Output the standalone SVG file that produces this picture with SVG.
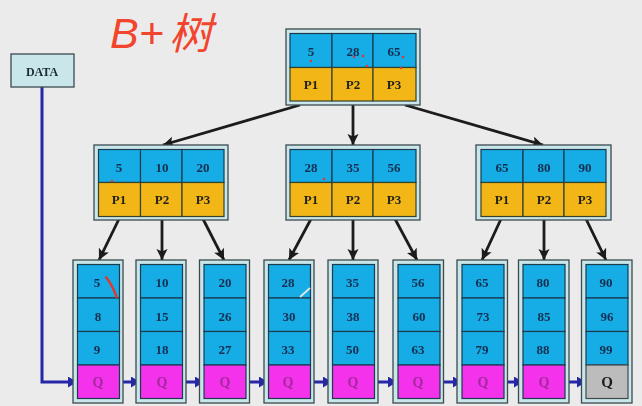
<svg xmlns="http://www.w3.org/2000/svg" width="642" height="406" viewBox="0 0 642 406">
<style>
.o{fill:#c9e6ea;stroke:#3c4a4c;stroke-width:1.3}
.b{fill:#12ace6;stroke:#1c3a4e;stroke-width:1.2}
.y{fill:#f2b714;stroke:#38402f;stroke-width:1.2}
.m{fill:#f430ec;stroke:#1c3a4e;stroke-width:1.2}
.g{fill:#bcbcbc;stroke:#3c4a4c;stroke-width:1.2}
.t{font-family:"Liberation Serif","Times New Roman",serif;font-weight:700;font-size:13px;text-anchor:middle;fill:#142e50}
.p{fill:#22221c}
.q{fill:#a32a9a;font-size:14px}
.k{fill:#1e1e1e;font-size:15px}
.a{stroke:#1a1a1a;stroke-width:2.8;fill:none;marker-end:url(#ak)}
.l{stroke:#2626a8;stroke-width:3;fill:none;marker-end:url(#al)}
.d{fill:#e8352a}
.h{font-family:"Liberation Sans","Noto Sans CJK SC",sans-serif;font-style:italic;font-size:43px;fill:#f2452e}
</style>
<defs>
<filter id="soft" filterUnits="userSpaceOnUse" x="0" y="0" width="642" height="406"><feGaussianBlur stdDeviation="0.45"/></filter>
<marker id="ak" markerUnits="userSpaceOnUse" markerWidth="12" markerHeight="12" refX="11" refY="5.500" orient="auto"><path d="M0 0L11 5.500L0 11L2.500 5.500Z" fill="#1a1a1a"/></marker>
<marker id="al" markerUnits="userSpaceOnUse" markerWidth="10" markerHeight="12" refX="9" refY="5.500" orient="auto"><path d="M0 0L9 5.500L0 11Z" fill="#2626a8"/></marker>
</defs>
<rect width="642" height="406" fill="#ebebeb"/>
<text class="h" x="110" y="48" font-family="Liberation Sans, Noto Sans CJK SC, sans-serif">B+</text>
<text class="h" x="169" y="49" style="font-family:'Noto Sans CJK SC',sans-serif">树</text>
<g filter="url(#soft)">
<g id="connectors">
<path class="a" d="M300 105L163 145"/><path class="a" d="M353 105V145"/><path class="a" d="M405 105L543 145"/>
<path class="a" d="M119 219L99 260"/><path class="a" d="M162 219V260"/><path class="a" d="M203 219L224 260"/>
<path class="a" d="M311 219L289 260"/><path class="a" d="M353 219V260"/><path class="a" d="M395 219L417 260"/>
<path class="a" d="M501 219L482 260"/><path class="a" d="M544 219V260"/><path class="a" d="M586 219L606 260"/>
<path class="l" d="M42 87V382H77"/>
<path class="l" d="M120 382H140"/><path class="l" d="M183 382H204"/><path class="l" d="M246 382H268"/><path class="l" d="M311 382H332"/><path class="l" d="M375 382H397"/><path class="l" d="M440 382H462"/><path class="l" d="M505 382H523"/><path class="l" d="M565 382H586"/>
</g>
<g id="data"><rect class="o" x="11" y="54" width="63" height="33"/><text class="t" x="42" y="76" style="font-size:12px;fill:#1e2a30">DATA</text></g>
<g id="root"><rect class="o" x="286" y="29" width="134" height="76"/>
<rect class="b" x="290" y="33.500" width="42" height="34"/><rect class="b" x="332" y="33.500" width="41" height="34"/><rect class="b" x="373" y="33.500" width="43" height="34"/>
<rect class="y" x="290" y="67.500" width="42" height="33.500"/><rect class="y" x="332" y="67.500" width="41" height="33.500"/><rect class="y" x="373" y="67.500" width="43" height="33.500"/>
<text class="t" x="311" y="56">5</text><text class="t" x="353" y="56">28</text><text class="t" x="394" y="56">65</text>
<text class="t p" x="311" y="89">P1</text><text class="t p" x="353" y="89">P2</text><text class="t p" x="394" y="89">P3</text>
<circle class="d" cx="311" cy="61" r="1.200"/><circle class="d" cx="354" cy="57" r="1.200"/><circle class="d" cx="363" cy="56" r="1.200"/><circle class="d" cx="403" cy="57" r="1.200"/><circle class="d" cx="367" cy="66" r="1.200"/><circle class="d" cx="401" cy="68" r="1.200"/></g>
<g id="mid1"><rect class="o" x="94" y="145" width="134" height="75"/>
<rect class="b" x="98.500" y="149.500" width="42" height="33"/><rect class="b" x="140.500" y="149.500" width="41.500" height="33"/><rect class="b" x="182" y="149.500" width="42" height="33"/>
<rect class="y" x="98.500" y="182.500" width="42" height="34"/><rect class="y" x="140.500" y="182.500" width="41.500" height="34"/><rect class="y" x="182" y="182.500" width="42" height="34"/>
<text class="t" x="119" y="172">5</text><text class="t" x="162" y="172">10</text><text class="t" x="203" y="172">20</text>
<text class="t p" x="119" y="204">P1</text><text class="t p" x="162" y="204">P2</text><text class="t p" x="203" y="204">P3</text>
<circle class="d" cx="112" cy="181" r="1.200"/></g>
<g id="mid2"><rect class="o" x="286" y="145" width="134" height="75"/>
<rect class="b" x="290" y="149.500" width="42" height="33"/><rect class="b" x="332" y="149.500" width="41" height="33"/><rect class="b" x="373" y="149.500" width="43" height="33"/>
<rect class="y" x="290" y="182.500" width="42" height="34"/><rect class="y" x="332" y="182.500" width="41" height="34"/><rect class="y" x="373" y="182.500" width="43" height="34"/>
<text class="t" x="311" y="172">28</text><text class="t" x="353" y="172">35</text><text class="t" x="394" y="172">56</text>
<text class="t p" x="311" y="204">P1</text><text class="t p" x="353" y="204">P2</text><text class="t p" x="394" y="204">P3</text>
<circle class="d" cx="324" cy="179" r="1.200"/></g>
<g id="mid3"><rect class="o" x="476" y="145" width="135" height="75"/>
<rect class="b" x="481" y="149.500" width="42" height="33"/><rect class="b" x="523" y="149.500" width="41" height="33"/><rect class="b" x="564" y="149.500" width="42" height="33"/>
<rect class="y" x="481" y="182.500" width="42" height="34"/><rect class="y" x="523" y="182.500" width="41" height="34"/><rect class="y" x="564" y="182.500" width="42" height="34"/>
<text class="t" x="502" y="172">65</text><text class="t" x="544" y="172">80</text><text class="t" x="585" y="172">90</text>
<text class="t p" x="502" y="204">P1</text><text class="t p" x="544" y="204">P2</text><text class="t p" x="585" y="204">P3</text></g>
<g id="leaf1"><rect class="o" x="73" y="260" width="50" height="143"/><rect class="b" x="77.500" y="264.500" width="42" height="33.500"/><rect class="b" x="77.500" y="298" width="42" height="33.500"/><rect class="b" x="77.500" y="331.500" width="42" height="33.500"/><rect class="m" x="77.500" y="365" width="42" height="33.500"/>
<text class="t" x="97" y="287">5</text><text class="t" x="98" y="321">8</text><text class="t" x="97" y="354">9</text><text class="t q" x="98" y="387">Q</text>
<path d="M105.500 276.500Q112 284 117 298" fill="none" stroke="#e8352a" stroke-width="2.400"/></g>
<g id="leaf2"><rect class="o" x="136" y="260" width="50" height="143"/><rect class="b" x="140.500" y="264.500" width="42" height="33.500"/><rect class="b" x="140.500" y="298" width="42" height="33.500"/><rect class="b" x="140.500" y="331.500" width="42" height="33.500"/><rect class="m" x="140.500" y="365" width="42" height="33.500"/>
<text class="t" x="162" y="287">10</text><text class="t" x="162" y="321">15</text><text class="t" x="162" y="354">18</text><text class="t q" x="162" y="387">Q</text></g>
<g id="leaf3"><rect class="o" x="199.500" y="260" width="50" height="143"/><rect class="b" x="204" y="264.500" width="42" height="33.500"/><rect class="b" x="204" y="298" width="42" height="33.500"/><rect class="b" x="204" y="331.500" width="42" height="33.500"/><rect class="m" x="204" y="365" width="42" height="33.500"/>
<text class="t" x="225" y="287">20</text><text class="t" x="225" y="321">26</text><text class="t" x="225" y="354">27</text><text class="t q" x="225" y="387">Q</text></g>
<g id="leaf4"><rect class="o" x="264" y="260" width="50" height="143"/><rect class="b" x="268.500" y="264.500" width="42" height="33.500"/><rect class="b" x="268.500" y="298" width="42" height="33.500"/><rect class="b" x="268.500" y="331.500" width="42" height="33.500"/><rect class="m" x="268.500" y="365" width="42" height="33.500"/>
<text class="t" x="288" y="287">28</text><text class="t" x="289" y="321">30</text><text class="t" x="288" y="354">33</text><text class="t q" x="288" y="387">Q</text>
<path d="M300 297L310 288" stroke="#e4e4e4" stroke-width="1.800"/></g>
<g id="leaf5"><rect class="o" x="328" y="260" width="50" height="143"/><rect class="b" x="332.500" y="264.500" width="42" height="33.500"/><rect class="b" x="332.500" y="298" width="42" height="33.500"/><rect class="b" x="332.500" y="331.500" width="42" height="33.500"/><rect class="m" x="332.500" y="365" width="42" height="33.500"/>
<text class="t" x="352.500" y="287">35</text><text class="t" x="353" y="321">38</text><text class="t" x="352.500" y="354">50</text><text class="t q" x="353" y="387">Q</text></g>
<g id="leaf6"><rect class="o" x="393" y="260" width="50.500" height="143"/><rect class="b" x="398" y="264.500" width="42" height="33.500"/><rect class="b" x="398" y="298" width="42" height="33.500"/><rect class="b" x="398" y="331.500" width="42" height="33.500"/><rect class="m" x="398" y="365" width="42" height="33.500"/>
<text class="t" x="418" y="287">56</text><text class="t" x="419" y="321">60</text><text class="t" x="418" y="354">63</text><text class="t q" x="418" y="387">Q</text></g>
<g id="leaf7"><rect class="o" x="457" y="260" width="50.500" height="143"/><rect class="b" x="462" y="264.500" width="42" height="33.500"/><rect class="b" x="462" y="298" width="42" height="33.500"/><rect class="b" x="462" y="331.500" width="42" height="33.500"/><rect class="m" x="462" y="365" width="42" height="33.500"/>
<text class="t" x="482" y="287">65</text><text class="t" x="483" y="321">73</text><text class="t" x="482" y="354">79</text><text class="t q" x="483" y="387">Q</text></g>
<g id="leaf8"><rect class="o" x="518.500" y="260" width="50.500" height="143"/><rect class="b" x="523" y="264.500" width="42" height="33.500"/><rect class="b" x="523" y="298" width="42" height="33.500"/><rect class="b" x="523" y="331.500" width="42" height="33.500"/><rect class="m" x="523" y="365" width="42" height="33.500"/>
<text class="t" x="543" y="287">80</text><text class="t" x="544" y="321">85</text><text class="t" x="543" y="354">88</text><text class="t q" x="544" y="387">Q</text></g>
<g id="leaf9"><rect class="o" x="581.500" y="260" width="50.500" height="143"/><rect class="b" x="586" y="264.500" width="42" height="33.500"/><rect class="b" x="586" y="298" width="42" height="33.500"/><rect class="b" x="586" y="331.500" width="42" height="33.500"/><rect class="g" x="586" y="365" width="42" height="33.500"/>
<text class="t" x="606" y="287">90</text><text class="t" x="607" y="321">96</text><text class="t" x="606" y="354">99</text><text class="t k" x="607" y="387">Q</text></g>
</g>
</svg>
